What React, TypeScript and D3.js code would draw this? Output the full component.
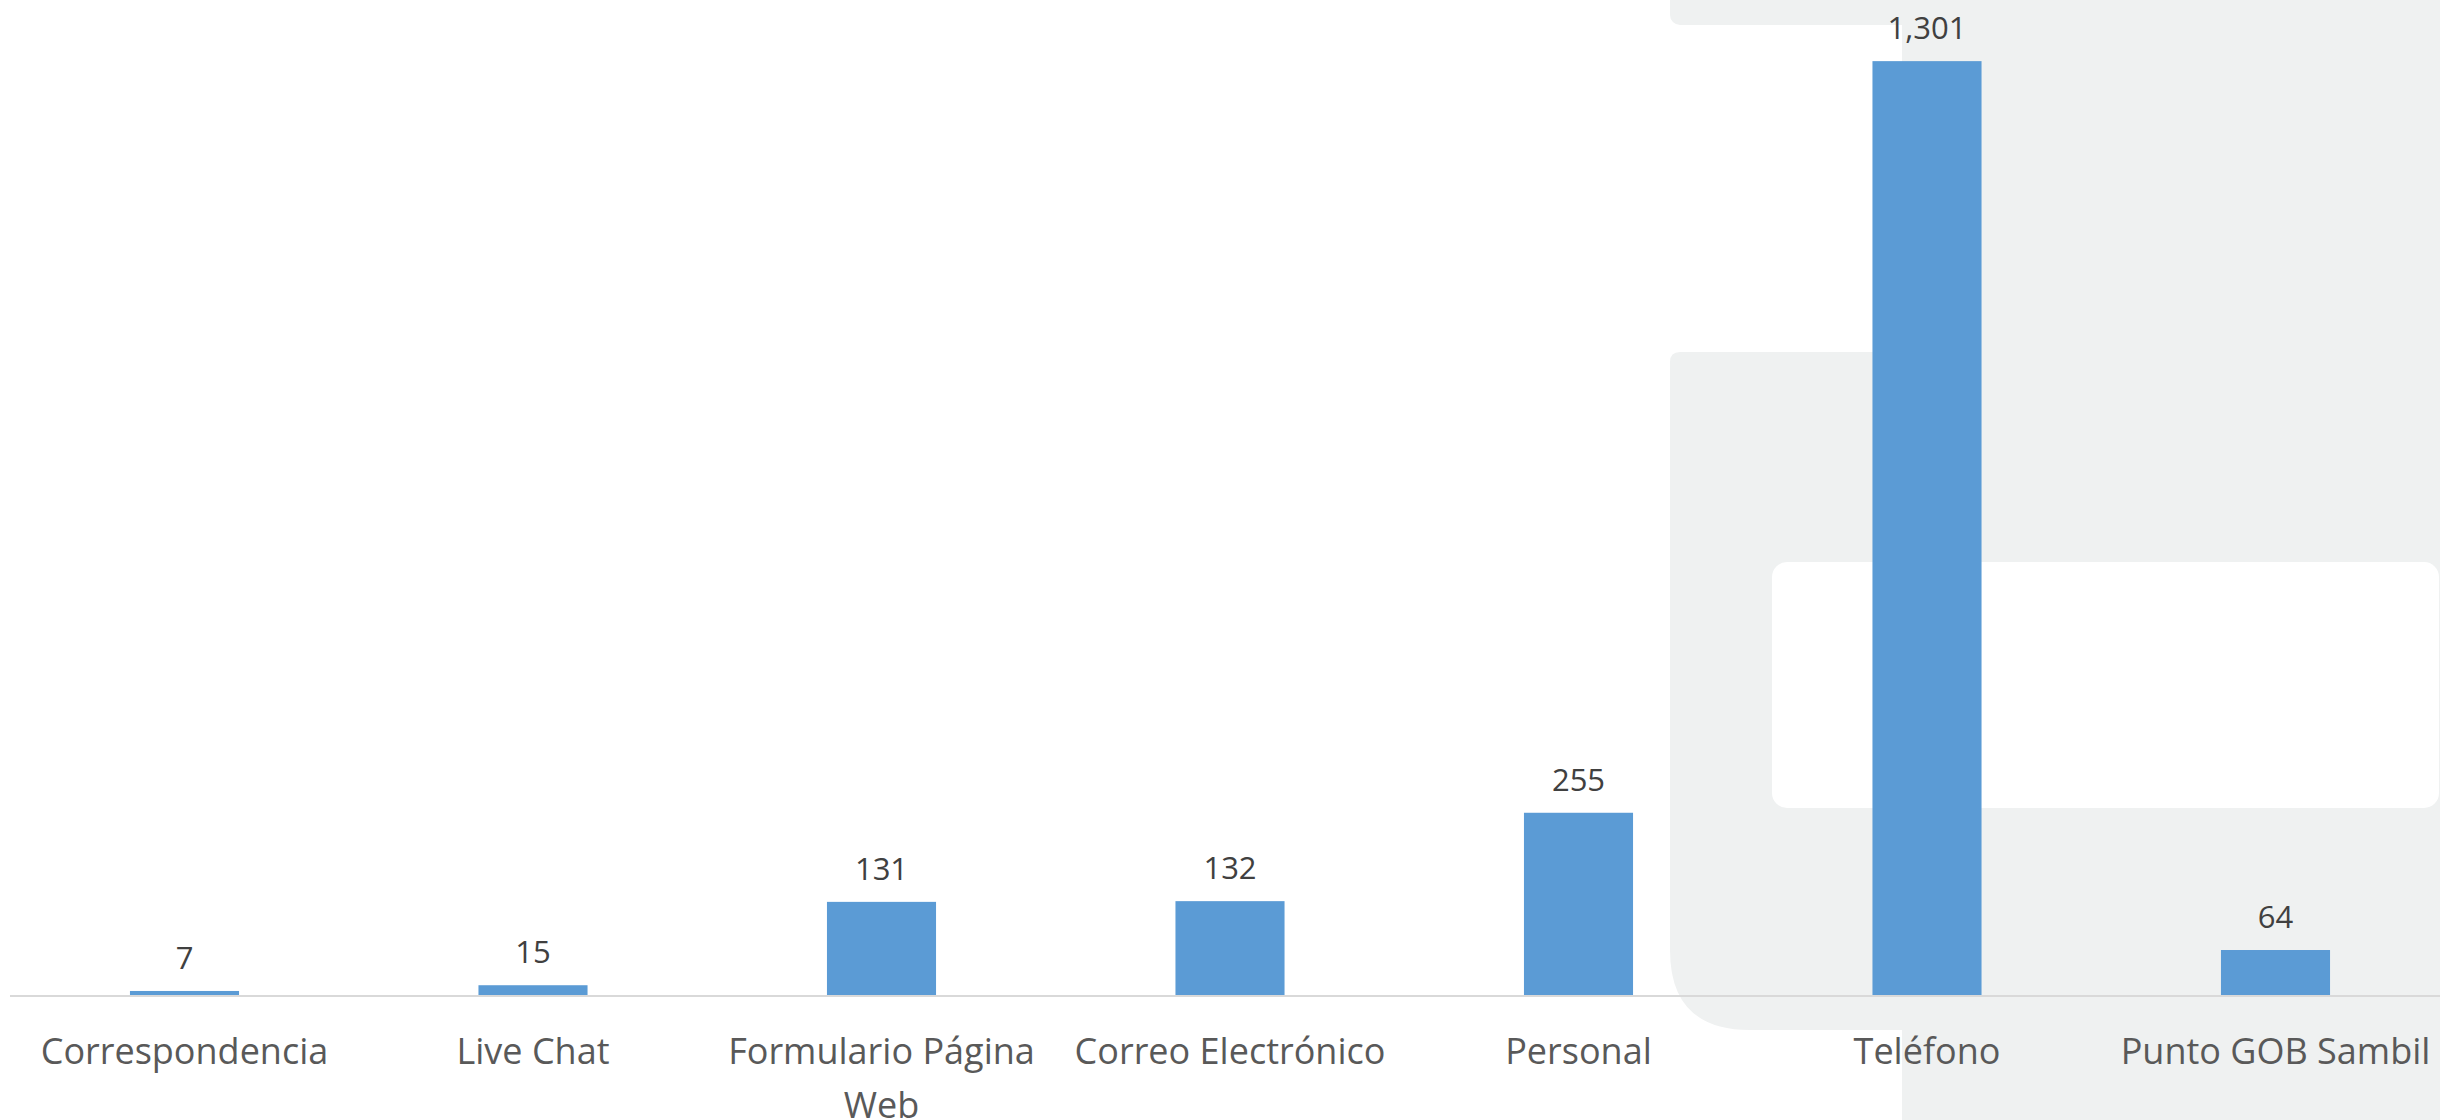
import React, { useEffect, useRef } from 'react';
import * as d3 from 'd3';

const categories = [
  'Correspondencia',
  'Live Chat',
  'Formulario Página Web',
  'Correo Electrónico',
  'Personal',
  'Teléfono',
  'Punto GOB Sambil',
];
const values = [7, 15, 131, 132, 255, 1301, 64];

const width = 2440;
const height = 1120;
const baseline = 996;
const font = "'Open Sans', 'Noto Sans', sans-serif";

const App: React.FC = () => {
  const ref = useRef<SVGSVGElement | null>(null);

  useEffect(() => {
    if (!ref.current) return;
    const svg = d3.select(ref.current);
    svg.selectAll('*').remove();

    // watermark shapes in the background
    const bg = svg.append('g').attr('fill', '#eff1f1');
    bg.append('rect').attr('x', 1670).attr('y', -20).attr('width', 800).attr('height', 45).attr('rx', 10);
    bg.append('rect').attr('x', 1902).attr('y', 0).attr('width', 540).attr('height', height);
    const cx = 1670, cy = 352, cb = 1030, r1 = 10, r2 = 80;
    bg.append('path').attr('d',
      `M${cx + r1},${cy} L${width + 10},${cy} L${width + 10},${cb} L${cx + r2},${cb} ` +
      `Q${cx},${cb} ${cx},${cb - r2} L${cx},${cy + r1} Q${cx},${cy} ${cx + r1},${cy} Z`);
    svg.append('rect').attr('x', 1772).attr('y', 562).attr('width', 667).attr('height', 246)
      .attr('rx', 15).attr('fill', '#ffffff');

    const x = d3.scaleBand<string>()
      .domain(categories)
      .range([10.25, 2449.75])
      .paddingInner(0.687)
      .paddingOuter(0.3435);

    const y = d3.scaleLinear().domain([0, 1400]).range([baseline, -10]);

    const data = categories.map((c, i) => ({ c, v: values[i] }));

    svg.append('g')
      .selectAll('rect')
      .data(data)
      .join('rect')
      .attr('x', d => x(d.c)!)
      .attr('y', d => y(d.v))
      .attr('width', x.bandwidth())
      .attr('height', d => baseline - y(d.v))
      .attr('fill', '#5b9bd5');

    // axis line
    svg.append('line')
      .attr('x1', 10).attr('x2', width)
      .attr('y1', baseline).attr('y2', baseline)
      .attr('stroke', '#d9d9d9').attr('stroke-width', 2);

    // data labels
    svg.append('g')
      .selectAll('text')
      .data(data)
      .join('text')
      .attr('x', d => x(d.c)! + x.bandwidth() / 2)
      .attr('y', d => y(d.v) - 22)
      .attr('text-anchor', 'middle')
      .style('font-family', font)
      .style('font-size', '31px')
      .attr('fill', '#404040')
      .text(d => d3.format(',')(d.v));

    // category labels, wrapped to the band step
    const labels = svg.append('g')
      .selectAll('text')
      .data(categories)
      .join('text')
      .attr('x', d => x(d)! + x.bandwidth() / 2)
      .attr('y', 1064)
      .attr('text-anchor', 'middle')
      .style('font-family', font)
      .style('font-size', '36px')
      .attr('fill', '#595959');

    labels.each(function (d) {
      const t = d3.select(this);
      const cxl = x(d)! + x.bandwidth() / 2;
      const words = d.split(' ');
      let line: string[] = [];
      let lineNo = 0;
      let tspan = t.append('tspan').attr('x', cxl).attr('dy', 0);
      for (const w of words) {
        line.push(w);
        tspan.text(line.join(' '));
        if ((tspan.node() as SVGTSpanElement).getComputedTextLength() > x.step() - 10 && line.length > 1) {
          line.pop();
          tspan.text(line.join(' '));
          line = [w];
          lineNo++;
          tspan = t.append('tspan').attr('x', cxl).attr('dy', 54).text(w);
        }
      }
    });
  }, []);

  return (
    <svg
      ref={ref}
      width={width}
      height={height}
      style={{ position: 'absolute', left: 0, top: 0, background: '#ffffff' }}
    />
  );
};

export default App;
